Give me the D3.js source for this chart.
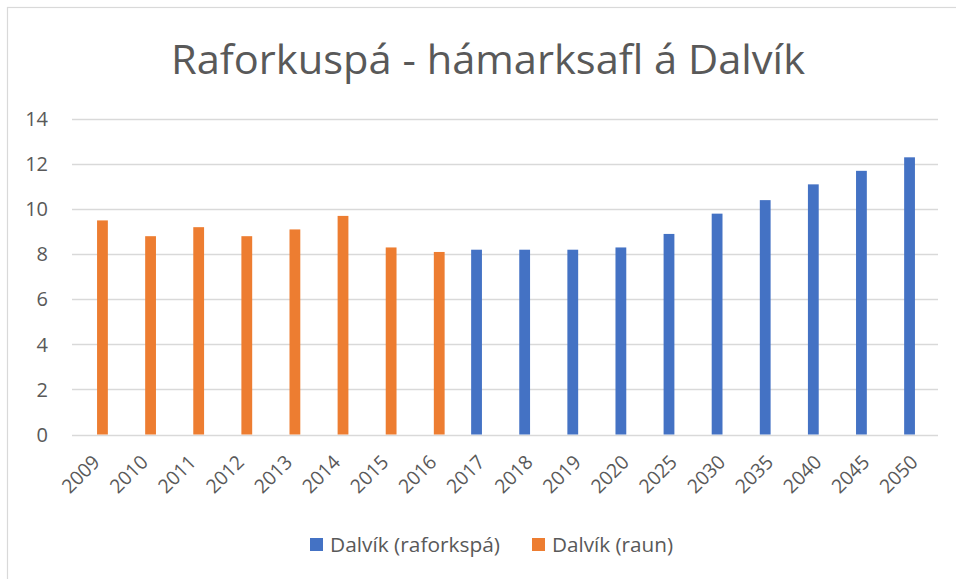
<!DOCTYPE html>
<html><head><meta charset="utf-8">
<script src="https://cdn.jsdelivr.net/npm/d3@7"></script>
<style>body{margin:0;background:#fff}svg{display:block}</style>
</head><body>
<script>
const categories = ["2009","2010","2011","2012","2013","2014","2015","2016","2017","2018","2019","2020","2025","2030","2035","2040","2045","2050"];
const forecast = [null,null,null,null,null,null,null,null,8.2,8.2,8.2,8.3,8.9,9.8,10.4,11.1,11.7,12.3];
const actual = [9.5,8.8,9.2,8.8,9.1,9.7,8.3,8.1,null,null,null,null,null,null,null,null,null,null];
const seriesNames = ["Dalvík (raforkspá)","Dalvík (raun)"];
const colors = ["#4472C4","#ED7D31"];
const yTicks = [0,2,4,6,8,10,12,14];
const title = "Raforkuspá - hámarksafl á Dalvík";

(function(){
const W=956,H=579;
const font = "'Open Sans', 'Noto Sans', sans-serif";
const svg = d3.select("body").append("svg").attr("width",W).attr("height",H);
svg.append("rect").attr("x",7.5).attr("y",7.5).attr("width",W+10).attr("height",H+10)
  .attr("fill","#fff").attr("stroke","#D9D9D9").attr("stroke-width",1.2);

const pL=72,pR=938,pT=119,pB=434.5;
const x = d3.scaleBand().domain(categories).range([pL,pR]).padding(0);
const y = d3.scaleLinear().domain([0,14]).range([pB,pT]);
const bw = 10.8;

svg.append("g").selectAll("line").data(yTicks).join("line")
  .attr("x1",pL).attr("x2",pR).attr("y1",d=>Math.round(y(d))+0.5).attr("y2",d=>Math.round(y(d))+0.5)
  .attr("stroke","#D9D9D9").attr("stroke-width",1.3);

svg.append("g").selectAll("text").data(yTicks).join("text")
  .attr("x",48).attr("y",d=>y(d)).attr("dy","0.36em").attr("text-anchor","end")
  .attr("font-family",font).attr("font-size",20).attr("fill","#595959").text(d=>d);

const data = [forecast, actual];
data.forEach((arr,si)=>{
  svg.append("g").selectAll("rect").data(categories.map((c,i)=>({c,v:arr[i]})).filter(d=>d.v!=null)).join("rect")
    .attr("x",d=>x(d.c)+x.bandwidth()/2 + (si===0 ? -bw : 0) + 1)
    .attr("y",d=>y(d.v)).attr("width",bw).attr("height",d=>pB-y(d.v))
    .attr("fill",colors[si]);
});

svg.append("g").selectAll("text").data(categories).join("text")
  .attr("transform",d=>`translate(${x(d)+x.bandwidth()/2+5},${pB+29}) rotate(-45)`)
  .attr("text-anchor","end").attr("font-family",font).attr("font-size",19.5).attr("fill","#595959")
  .attr("textLength",44).attr("lengthAdjust","spacingAndGlyphs").text(d=>d);

svg.append("text").attr("x",488).attr("y",74).attr("text-anchor","middle")
  .attr("font-family",font).attr("font-size",40).attr("fill","#595959")
  .attr("textLength",634).attr("lengthAdjust","spacingAndGlyphs").text(title);

const leg = [{x:310,tx:330,w:170},{x:532,tx:552,w:121}];
seriesNames.forEach((n,i)=>{
  svg.append("rect").attr("x",leg[i].x).attr("y",538).attr("width",13).attr("height",13).attr("fill",colors[i]);
  svg.append("text").attr("x",leg[i].tx).attr("y",545).attr("dy","0.36em")
    .attr("font-family",font).attr("font-size",20).attr("fill","#595959")
    .attr("textLength",leg[i].w).attr("lengthAdjust","spacingAndGlyphs").text(n);
});
})();
</script>
</body></html>
